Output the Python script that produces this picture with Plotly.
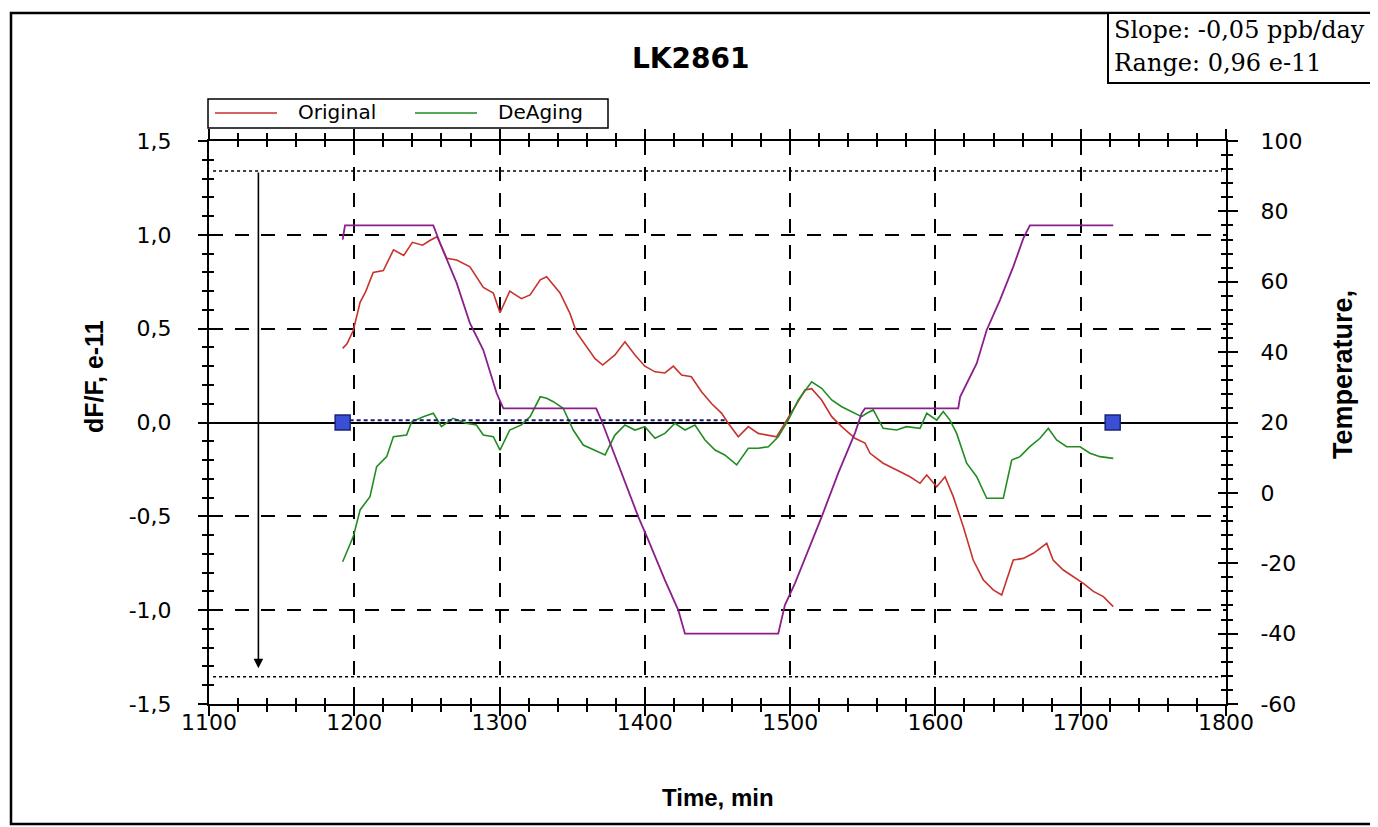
import plotly.graph_objects as go

# ---------------- data ----------------
orig_t = [1192, 1195, 1199.3, 1204, 1208, 1213, 1220, 1227, 1234, 1240, 1247, 1252, 1257,
          1263.6, 1270.5, 1279.6, 1288.8, 1295.7, 1300.3, 1307, 1315, 1321, 1328, 1332.4,
          1341.6, 1348.5, 1353, 1360, 1365.7, 1371, 1379.4, 1386.3, 1393.2, 1400, 1407,
          1413.8, 1419.6, 1425.3, 1432, 1439, 1446, 1452.9, 1457.4, 1464.3, 1471.2, 1478,
          1485, 1490.7, 1496.4, 1503.3, 1510.2, 1514.8, 1521.7, 1528.6, 1535.5, 1544.6,
          1551.5, 1555, 1564, 1573.3, 1582.5, 1589.4, 1594, 1600.9, 1606.6, 1612.3, 1619.2,
          1626, 1633, 1639.8, 1645.6, 1649, 1653.6, 1660.5, 1667.4, 1676.6, 1681, 1688,
          1694.9, 1701.8, 1708.7, 1715.6, 1722.4]
orig_v = [0.395, 0.42, 0.49, 0.64, 0.70, 0.80, 0.81, 0.92, 0.89, 0.96, 0.945, 0.97, 0.99,
          0.875, 0.866, 0.83, 0.72, 0.69, 0.585, 0.70, 0.66, 0.68, 0.76, 0.777,
          0.69, 0.58, 0.48, 0.40, 0.34, 0.306, 0.36, 0.43, 0.36, 0.30, 0.27,
          0.264, 0.30, 0.253, 0.244, 0.164, 0.10, 0.049, -0.004, -0.076, -0.022, -0.058,
          -0.067, -0.076, -0.004, 0.084, 0.173, 0.18, 0.12, 0.031, -0.022, -0.084,
          -0.11, -0.164, -0.217, -0.253, -0.289, -0.324, -0.28, -0.342, -0.289, -0.395, -0.555,
          -0.733, -0.839, -0.892, -0.919, -0.839, -0.733, -0.724, -0.697, -0.644, -0.733, -0.786,
          -0.822, -0.857, -0.90, -0.928, -0.981]

deag_t = [1192, 1199.3, 1204, 1210.8, 1215.4, 1222.3, 1226.9, 1236, 1239.5, 1247.5, 1254.4,
          1260, 1268, 1277, 1284, 1288.8, 1295.7, 1300.3, 1307, 1315, 1321, 1328, 1332.4,
          1337, 1343.8, 1350.7, 1357.6, 1365.7, 1372.6, 1379.4, 1386.3, 1393.2, 1400, 1407,
          1413.8, 1420.7, 1427.6, 1434.5, 1441.4, 1448.3, 1455, 1463.2, 1471.2, 1478, 1485,
          1491.8, 1498.7, 1505.6, 1514.8, 1521.7, 1528.6, 1535.5, 1542.3, 1549.2, 1552.7,
          1557.2, 1564, 1573.3, 1580, 1589.4, 1594, 1600.9, 1605.4, 1610, 1614.6, 1621.5,
          1628.4, 1635.3, 1646.7, 1652.5, 1658.2, 1665, 1672, 1677.7, 1683.4, 1690.3, 1699.5,
          1706.4, 1713.3, 1722.4]
deag_v = [-0.742, -0.608, -0.466, -0.395, -0.235, -0.182, -0.076, -0.067, 0.004, 0.031, 0.049,
          -0.022, 0.022, -0.004, -0.013, -0.067, -0.076, -0.147, -0.04, -0.013, 0.031, 0.137, 0.129,
          0.111, 0.076, -0.04, -0.12, -0.147, -0.173, -0.067, -0.013, -0.04, -0.022, -0.084,
          -0.058, -0.004, -0.04, -0.013, -0.093, -0.147, -0.173, -0.226, -0.137, -0.137, -0.129,
          -0.076, 0.013, 0.12, 0.217, 0.182, 0.12, 0.084, 0.058, 0.031, 0.049,
          0.067, -0.031, -0.04, -0.022, -0.031, 0.049, 0.013, 0.058, 0.013, -0.058, -0.217,
          -0.289, -0.404, -0.404, -0.2, -0.182, -0.129, -0.084, -0.031, -0.093, -0.129, -0.129,
          -0.164, -0.182, -0.191]

temp_t = [1192, 1193.6, 1254.4, 1259, 1270.5, 1279.6, 1288.8, 1298, 1302.6, 1366.5, 1370, 1377,
          1388.6, 1395.5, 1402.4, 1413.8, 1423, 1427.6, 1491.8, 1496.4, 1503.3, 1512.5, 1521.7,
          1533.1, 1544.6, 1549.2, 1551.5, 1615.7, 1617, 1628.4, 1635.3, 1644.4, 1653.6, 1660.5,
          1665, 1722.4]
temp_v = [72, 76, 76, 71, 59.6, 48.2, 40.6, 28.3, 24, 24, 20.7, 13.1,
          0.8, -6.8, -13.4, -24.8, -33.3, -40, -40, -31.9, -25.7, -16.2, -6.8,
          5.6, 17, 22.6, 24, 24, 27.3, 36.8, 46.3, 54.8, 64.3, 72.3,
          76, 76]

marker_t = [1192, 1722]
marker_v = [0.0, 0.0]
fit_t = [1192, 1456]
fit_v = [0.012, 0.012]
limit_hi = 1.34
limit_lo = -1.355
arrow_t = 1134
arrow_top = 1.34
arrow_bottom = -1.31

x_ticks = [1100, 1200, 1300, 1400, 1500, 1600, 1700, 1800]
y_ticks = [-1.5, -1.0, -0.5, 0.0, 0.5, 1.0, 1.5]
y_tick_text = ["-1,5", "-1,0", "-0,5", "0,0", "0,5", "1,0", "1,5"]
t_ticks = [-60, -40, -20, 0, 20, 40, 60, 80, 100]
t_tick_text = ["-60", "-40", "-20", "0", "20", "40", "60", "80", "100"]

title_text = "LK2861"
info_lines = ["Slope: -0,05 ppb/day", "Range: 0,96 e-11"]
series_names = ["Original", "DeAging"]

# ---------------- layout helpers (page pixel coordinates) ----------------
OFF = 8                      # default body margin of the html page
W_FIG, H_FIG = 1378 - OFF, 827 - OFF
L, R, T, B = 209, 1226, 141, 704
PW, PH = R - L, B - T


def fx(p):
    return (p - L) / PW


def fy(p):
    return (B - p) / PH


RED = "#c8322d"
GREEN = "#228b22"
PURPLE = "#8a1f8c"
SANS = "DejaVu Sans, Arial, sans-serif"
LSANS = "Liberation Sans, Arial, sans-serif"
SERIF = "DejaVu Serif, Times New Roman, serif"

fig = go.Figure()

fig.add_trace(go.Scatter(x=orig_t, y=orig_v, mode="lines", name=series_names[0],
                         line=dict(color=RED, width=1.6), showlegend=False))
fig.add_trace(go.Scatter(x=deag_t, y=deag_v, mode="lines", name=series_names[1],
                         line=dict(color=GREEN, width=1.6), showlegend=False))
fig.add_trace(go.Scatter(x=temp_t, y=temp_v, mode="lines", name="Temperature",
                         line=dict(color=PURPLE, width=1.8), yaxis="y2", showlegend=False))
fig.add_trace(go.Scatter(x=fit_t, y=fit_v, mode="lines",
                         line=dict(color="#1c1c70", width=2.2, dash="4px,3px"),
                         showlegend=False, hoverinfo="skip"))
fig.add_trace(go.Scatter(x=marker_t, y=marker_v, mode="markers",
                         marker=dict(symbol="square", size=15, color="#3b4fd4",
                                     line=dict(color="#1b237a", width=1.5)),
                         showlegend=False))
# dummy traces so the inside-tick overlay axes are drawn
fig.add_trace(go.Scatter(x=[1100], y=[-1.5], xaxis="x3", yaxis="y3", mode="markers",
                         marker=dict(opacity=0), showlegend=False, hoverinfo="skip"))
fig.add_trace(go.Scatter(x=[1100], y=[-60], xaxis="x3", yaxis="y4", mode="markers",
                         marker=dict(opacity=0), showlegend=False, hoverinfo="skip"))

tickfont = dict(family=SANS, size=22, color="black")
DASH = "14px,12px"

fig.update_layout(
    width=W_FIG, height=H_FIG,
    margin=dict(l=L - OFF, r=1378 - R, t=T - OFF, b=827 - B),
    paper_bgcolor="white", plot_bgcolor="white",
    xaxis=dict(range=[1100, 1800], tickvals=x_ticks, ticks="outside", ticklen=10, tickwidth=2,
               tickcolor="black", showline=True, linecolor="black", linewidth=2, mirror="ticks",
               showgrid=True, gridcolor="black", gridwidth=2, griddash=DASH,
               zeroline=False, tickfont=tickfont, ticklabelstandoff=-12,
               minor=dict(dtick=20, ticks="outside", ticklen=6, tickwidth=1.5,
                          tickcolor="black", showgrid=False)),
    xaxis3=dict(range=[1100, 1800], overlaying="x", anchor="y", side="bottom",
                tickvals=x_ticks, ticks="inside", ticklen=9, tickwidth=2, tickcolor="black",
                showticklabels=False, showgrid=False, zeroline=False, showline=False,
                mirror="ticks",
                minor=dict(dtick=20, ticks="inside", ticklen=6, tickwidth=1.5,
                           tickcolor="black", showgrid=False)),
    yaxis=dict(range=[-1.5, 1.5], tickvals=y_ticks, ticktext=y_tick_text, ticks="outside",
               ticklen=9, tickwidth=2, tickcolor="black", showline=True, linecolor="black",
               linewidth=2, showgrid=True, gridcolor="black", gridwidth=2, griddash=DASH,
               zeroline=True, zerolinecolor="black", zerolinewidth=2,
               tickfont=tickfont, ticklabelstandoff=22,
               minor=dict(dtick=0.1, ticks="outside", ticklen=5, tickwidth=1.5,
                          tickcolor="black", showgrid=False)),
    yaxis3=dict(range=[-1.5, 1.5], overlaying="y", anchor="x", side="left",
                tickvals=y_ticks, ticks="inside", ticklen=8, tickwidth=2, tickcolor="black",
                showticklabels=False, showgrid=False, zeroline=False, showline=False,
                minor=dict(dtick=0.1, ticks="inside", ticklen=5, tickwidth=1.5,
                           tickcolor="black", showgrid=False)),
    yaxis2=dict(range=[-60, 100], overlaying="y", anchor="x", side="right",
                tickvals=t_ticks, ticktext=t_tick_text, ticks="outside", ticklen=10,
                tickwidth=2, tickcolor="black",
                showline=True, linecolor="black", linewidth=2, showgrid=False, zeroline=False,
                tickfont=tickfont, ticklabelstandoff=18,
                minor=dict(dtick=4, ticks="outside", ticklen=5, tickwidth=1.5,
                           tickcolor="black", showgrid=False)),
    yaxis4=dict(range=[-60, 100], overlaying="y", anchor="x", side="right",
                tickvals=t_ticks, ticks="inside", ticklen=8, tickwidth=2, tickcolor="black",
                showticklabels=False, showgrid=False, zeroline=False, showline=False,
                minor=dict(dtick=4, ticks="inside", ticklen=5, tickwidth=1.5,
                           tickcolor="black", showgrid=False)),
    showlegend=False,
)

shapes = []
# outer frame
shapes.append(dict(type="rect", xref="paper", yref="paper", x0=fx(11), x1=fx(1375),
                   y0=fy(824), y1=fy(13), line=dict(color="black", width=2.5),
                   fillcolor="rgba(0,0,0,0)", layer="below"))
# limit dotted lines
for yv in (limit_hi, limit_lo):
    shapes.append(dict(type="line", xref="paper", yref="y", x0=0.004, x1=0.996, y0=yv, y1=yv,
                       line=dict(color="black", width=1.5, dash="dot")))
# info box
shapes.append(dict(type="rect", xref="paper", yref="paper", x0=fx(1108), x1=fx(1377),
                   y0=fy(83), y1=fy(13), line=dict(color="black", width=2),
                   fillcolor="white"))
# legend box
shapes.append(dict(type="rect", xref="paper", yref="paper", x0=fx(208), x1=fx(608),
                   y0=fy(128), y1=fy(99), line=dict(color="black", width=1.5),
                   fillcolor="white"))
shapes.append(dict(type="line", xref="paper", yref="paper", x0=fx(215), x1=fx(277),
                   y0=fy(113), y1=fy(113), line=dict(color=RED, width=1.6)))
shapes.append(dict(type="line", xref="paper", yref="paper", x0=fx(415), x1=fx(477),
                   y0=fy(113), y1=fy(113), line=dict(color=GREEN, width=1.6)))
fig.update_layout(shapes=shapes)


def text_ann(text, x, y, font, xanchor="center", angle=0):
    return dict(text=text, xref="paper", yref="paper", x=fx(x), y=fy(y),
                xanchor=xanchor, yanchor="middle", showarrow=False, textangle=angle,
                font=font)


ann = [
    text_ann(f"<b>{title_text}</b>", 690, 58, dict(family=SANS, size=28, color="black")),
    text_ann("<b>dF/F, e-11</b>", 94, 377, dict(family=LSANS, size=25, color="black"), angle=-90),
    text_ann("<b>Temperature,</b>", 1343, 375, dict(family=LSANS, size=27, color="black"), angle=-90),
    text_ann("<b>Time, min</b>", 718, 797, dict(family=LSANS, size=24, color="black")),
    text_ann(series_names[0], 296, 112, dict(family=SANS, size=20, color="black"), xanchor="left"),
    text_ann(series_names[1], 496, 112, dict(family=SANS, size=20, color="black"), xanchor="left"),
    text_ann(info_lines[0], 1112, 30, dict(family=SERIF, size=24, color="black"), xanchor="left"),
    text_ann(info_lines[1], 1112, 63, dict(family=SERIF, size=24, color="black"), xanchor="left"),
]
# vertical arrow
ann.append(dict(x=arrow_t, y=arrow_bottom, ax=arrow_t, ay=arrow_top, xref="x", yref="y",
                axref="x", ayref="y", showarrow=True, arrowhead=2, arrowsize=1.2,
                arrowwidth=1.6, arrowcolor="black", text=""))
fig.update_layout(annotations=ann)

fig.write_html("out.html")
